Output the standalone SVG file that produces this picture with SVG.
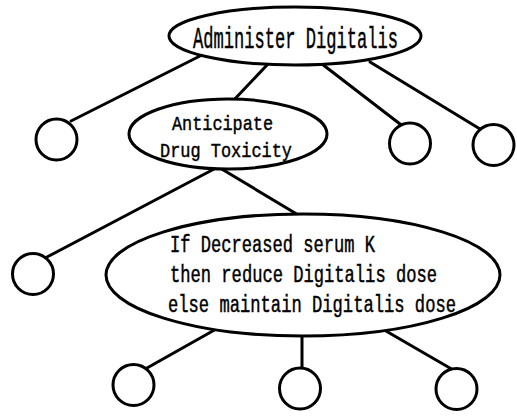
<svg xmlns="http://www.w3.org/2000/svg" width="517" height="416" viewBox="0 0 517 416">
  <style>
    .edge { stroke: #000; stroke-width: 3; fill: none; stroke-linecap: round; }
    .node { stroke: #000; stroke-width: 3; fill: #fff; }
    .lbl { font-family: "Liberation Mono", "DejaVu Sans Mono", monospace; fill: #000; stroke: #000; stroke-width: 0.45; }
  </style>
  <rect width="517" height="416" fill="#fff"/>

  <!-- connectors: drawn first so node fills cover their ends -->
  <g id="connectors">
    <line class="edge" x1="200" y1="56" x2="71" y2="121"/>
    <line class="edge" x1="268" y1="64" x2="232" y2="102"/>
    <line class="edge" x1="322" y1="64" x2="400" y2="124"/>
    <line class="edge" x1="370" y1="62" x2="480" y2="129"/>
    <line class="edge" x1="216" y1="168" x2="47" y2="257"/>
    <line class="edge" x1="220" y1="168" x2="300" y2="216"/>
    <line class="edge" x1="218" y1="328" x2="147" y2="368"/>
    <line class="edge" x1="302" y1="335" x2="302" y2="368"/>
    <line class="edge" x1="386" y1="331" x2="455" y2="371"/>
  </g>

  <g id="administer-digitalis">
    <ellipse class="node" cx="295" cy="36" rx="126" ry="29"/>
    <text class="lbl" x="193" y="48" font-size="29" textLength="205" lengthAdjust="spacingAndGlyphs">Administer Digitalis</text>
  </g>

  <g id="anticipate-drug-toxicity">
    <ellipse class="node" cx="228" cy="134" rx="99" ry="35"/>
    <text class="lbl" x="172" y="130" font-size="21" textLength="101" lengthAdjust="spacingAndGlyphs">Anticipate</text>
    <text class="lbl" x="160" y="157" font-size="21" textLength="132" lengthAdjust="spacingAndGlyphs">Drug Toxicity</text>
  </g>

  <g id="serum-k-rule">
    <ellipse class="node" cx="303" cy="275" rx="197" ry="61"/>
    <text class="lbl" x="170" y="252" font-size="23" textLength="205" lengthAdjust="spacingAndGlyphs">If Decreased serum K</text>
    <text class="lbl" x="170" y="282" font-size="23" textLength="267" lengthAdjust="spacingAndGlyphs">then reduce Digitalis dose</text>
    <text class="lbl" x="168" y="312" font-size="23" textLength="288" lengthAdjust="spacingAndGlyphs">else maintain Digitalis dose</text>
  </g>

  <g id="leaf-1"><circle class="node" cx="56.5" cy="139.5" r="20.5"/></g>
  <g id="leaf-2"><circle class="node" cx="410" cy="143.5" r="20.5"/></g>
  <g id="leaf-3"><circle class="node" cx="493.5" cy="145" r="20.5"/></g>
  <g id="leaf-4"><circle class="node" cx="33" cy="274" r="20.5"/></g>
  <g id="leaf-5"><circle class="node" cx="133.5" cy="385" r="20.5"/></g>
  <g id="leaf-6"><circle class="node" cx="300" cy="388.5" r="20.5"/></g>
  <g id="leaf-7"><circle class="node" cx="456.5" cy="389" r="20.5"/></g>
</svg>
